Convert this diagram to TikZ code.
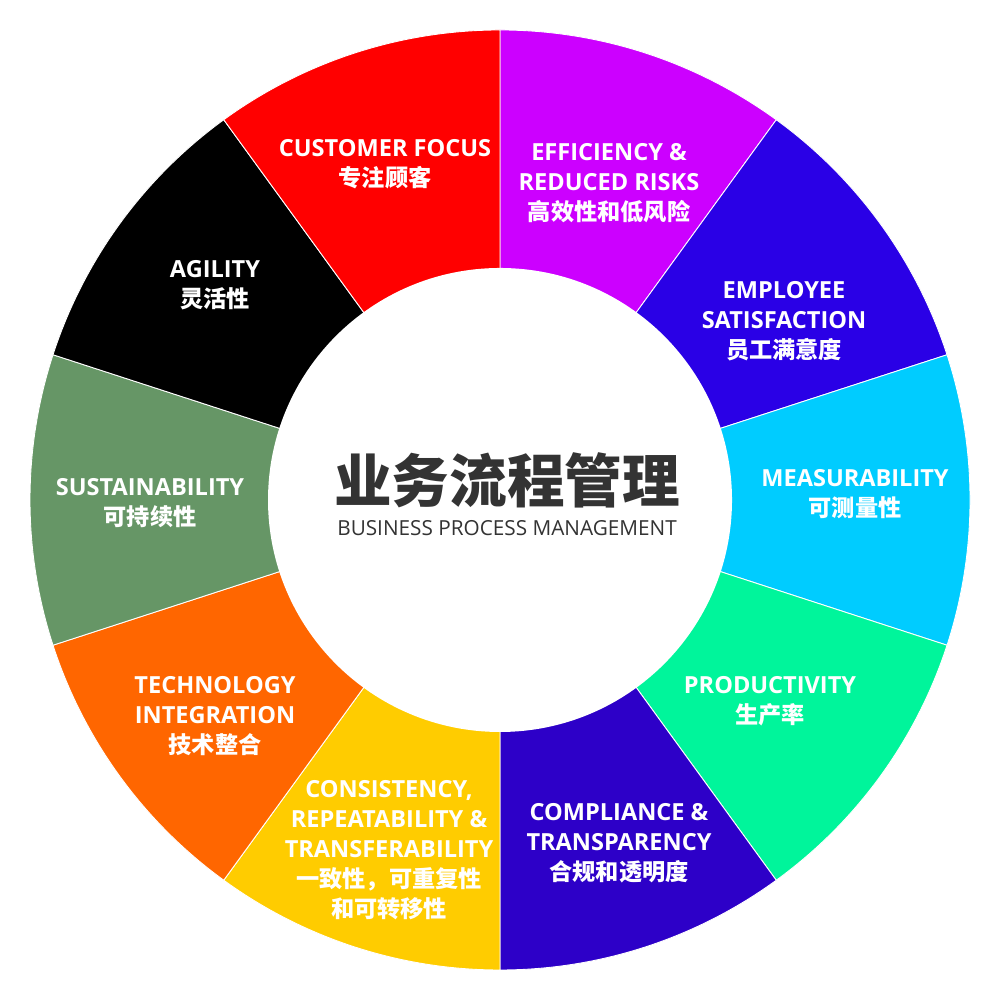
\documentclass[tikz,border=0pt]{standalone}
\usepackage{fontspec}
\setmainfont{Open Sans}
\newfontfamily\cjk{Noto Sans CJK SC}
\definecolor{cRed}{RGB}{255,0,0}
\definecolor{cPurple}{RGB}{204,0,255}
\definecolor{cBlue}{RGB}{42,0,230}
\definecolor{cCyan}{RGB}{0,204,255}
\definecolor{cGreen}{RGB}{0,245,155}
\definecolor{cIndigo}{RGB}{45,0,200}
\definecolor{cYellow}{RGB}{255,204,0}
\definecolor{cOrange}{RGB}{255,102,0}
\definecolor{cSage}{RGB}{102,150,102}
\definecolor{cBlack}{RGB}{0,0,0}
\definecolor{cText}{RGB}{51,51,51}
\tikzset{
  sector/.style={draw=white, line width=0.25pt},
  lbl/.style={text=white, align=center, font=\fontsize{6.7}{8.54}\selectfont\bfseries, inner sep=0pt},
}
\newcommand{\zh}[1]{{\cjk\fontsize{6.6}{8.54}\selectfont\bfseries #1}}
\begin{document}
\begin{tikzpicture}
\useasboundingbox (0,0) rectangle (10,10);
\fill[white] (0,0) rectangle (10,10);
\coordinate (O) at (5,5);
\foreach \c [count=\k from 0] in {cPurple,cBlue,cCyan,cGreen,cIndigo,cYellow,cOrange,cSage,cBlack,cRed}{
  \pgfmathsetmacro{\a}{90-36*\k}
  \pgfmathsetmacro{\b}{54-36*\k}
  \filldraw[sector, fill=\c] (O) -- ++(\a:4.7) arc[start angle=\a, end angle=\b, radius=4.7] -- cycle;
}
\node[circle, fill=white, minimum size=4.64cm, inner sep=0pt] (hub) at (O) {};
\node[text=cText, font=\cjk\fontsize{16.4}{18}\selectfont\bfseries, inner sep=0pt] (title) at (5.07,5.2) {业务流程管理};
\node[text=cText, font=\fontsize{5.9}{7}\selectfont, inner sep=0pt] (subtitle) at (5.07,4.72) {BUSINESS PROCESS MANAGEMENT};

\node[lbl] (customer) at (3.85,8.36) {CUSTOMER FOCUS\\\zh{专注顾客}};
\node[lbl] (efficiency) at (6.09,8.17) {EFFICIENCY \&\\REDUCED RISKS\\\zh{高效性和低风险}};
\node[lbl] (employee) at (7.84,6.79) {EMPLOYEE\\SATISFACTION\\\zh{员工满意度}};
\node[lbl] (measure) at (8.55,5.06) {MEASURABILITY\\\zh{可测量性}};
\node[lbl] (product) at (7.70,2.99) {PRODUCTIVITY\\\zh{生产率}};
\node[lbl] (comply) at (6.19,1.57) {COMPLIANCE \&\\TRANSPARENCY\\\zh{合规和透明度}};
\node[lbl] (consist) at (3.89,1.5) {CONSISTENCY,\\REPEATABILITY \&\\TRANSFERABILITY\\\zh{一致性，可重复性}\\\zh{和可转移性}};
\node[lbl] (tech) at (2.15,2.84) {TECHNOLOGY\\INTEGRATION\\\zh{技术整合}};
\node[lbl] (sustain) at (1.50,4.97) {SUSTAINABILITY\\\zh{可持续性}};
\node[lbl] (agility) at (2.15,7.15) {AGILITY\\\zh{灵活性}};
\end{tikzpicture}
\end{document}
